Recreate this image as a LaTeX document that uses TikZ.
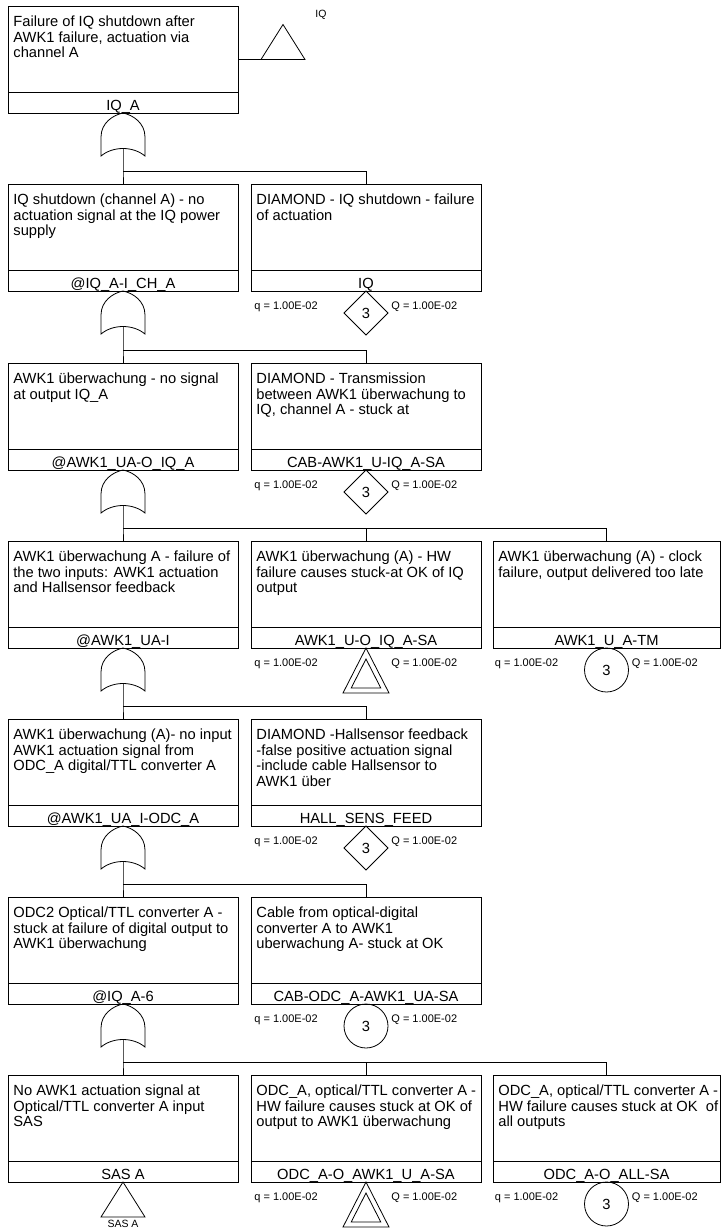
\documentclass[tikz,border=0pt]{standalone}
\usepackage{fontspec}
\setmainfont{Liberation Sans}
\usetikzlibrary{shapes.geometric}

% event box: name, left, top, width, description, identifier
\newcommand\evbox[6]{%
  \node[boxshape, minimum width=#4pt] (#1) at (#2,#3) {};
  \draw ([yshift=-86pt]#1.north west) -- ([yshift=-86pt]#1.north east);
  \node[desc] (#1-d) at ([xshift=5pt,yshift=-9.3pt]#1.north west) {#5};
  \node[lbl] (#1-l) at ([yshift=3pt]#1.south) {#6};
}
% OR gate hanging below a box; #1 = name of its input point, #2 = apex
\newcommand\orgate[2]{%
  \begin{scope}[shift={(#2)}]
    \draw (-22,43) -- (-22,24) .. controls (-22,10) and (-10,2) .. (0,0)
          .. controls (10,2) and (22,10) .. (22,24) -- (22,43)
          .. controls (10,33) and (-10,33) .. cycle;
    \coordinate (#1) at (0,35.5);
  \end{scope}}
% double triangle (undeveloped transfer) below a box
\newcommand\dbltri[1]{%
  \begin{scope}[shift={(#1)}]
    \draw (0,0) -- (23,45) -- (-23,45) -- cycle;
    \draw (0,11) -- (14.8,40) -- (-14.8,40) -- cycle;
  \end{scope}}
% probability labels around an event symbol
\newcommand\probs[2]{%
  \begin{scope}[shift={(#2)}]
    \node[prob] (#1-q) at (-112,18) {q = 1.00E-02};
    \node[prob] (#1-Q) at (25,18) {Q = 1.00E-02};
  \end{scope}}

\begin{document}
\begin{tikzpicture}[x=1pt,y=-1pt,line width=0.8pt,
  boxshape/.style={draw, minimum height=107pt, inner sep=0pt, outer sep=0pt, anchor=north west},
  desc/.style={anchor=north west, inner sep=0pt, align=left, font=\fontsize{14.7}{15.8}\selectfont},
  lbl/.style={anchor=base, inner sep=0pt, font=\fontsize{14.7}{15.8}\selectfont},
  prob/.style={anchor=base west, inner sep=0pt, font=\fontsize{11}{13}\selectfont},
  evdiamond/.style={diamond, draw, minimum width=44pt, minimum height=44pt, inner sep=0pt, outer sep=0pt, anchor=north, font=\fontsize{14.7}{15.8}\selectfont},
  evcircle/.style={circle, draw, minimum size=44pt, inner sep=0pt, outer sep=0pt, anchor=north, font=\fontsize{14.7}{15.8}\selectfont},
  tag/.style={inner sep=0pt, font=\fontsize{10.5}{12}\selectfont},
]
\fill[white] (0,0) rectangle (721,1229);
\useasboundingbox (0,0) rectangle (721,1229);

% ---------- level 1 ----------
\evbox{b1}{8}{6}{230}{Failure of IQ shutdown after\\AWK1 failure, actuation via\\channel A}{IQ\_A}
\coordinate (t0) at (261,59.5);
\draw (b1.east) -- (t0);
\draw (t0) -- ++(44,0) -- ++(-22,-35) -- cycle;
\node[tag, anchor=base west] (t0-l) at (315,17) {IQ};
\orgate{g1}{b1.south}

% ---------- level 2 ----------
\evbox{b2a}{8}{184}{230}{IQ shutdown (channel A) - no\\actuation signal at the IQ power\\supply}{@IQ\_A-I\_CH\_A}
\evbox{b2b}{251}{184}{230}{DIAMOND - IQ shutdown - failure\\of actuation}{IQ}
\node[evdiamond] (e2b) at (b2b.south) {3};
\probs{p2b}{b2b.south}
\coordinate (h1) at (123,171);
\draw (g1) -- (h1) -- (b2a.north);
\draw (h1) -| (b2b.north);
\orgate{g2}{b2a.south}

% ---------- level 3 ----------
\evbox{b3a}{8}{363}{230}{AWK1 überwachung - no signal\\at output IQ\_A}{@AWK1\_UA-O\_IQ\_A}
\evbox{b3b}{251}{363}{230}{DIAMOND - Transmission\\between AWK1 überwachung to\\IQ, channel A - stuck at}{CAB-AWK1\_U-IQ\_A-SA}
\node[evdiamond] (e3b) at (b3b.south) {3};
\probs{p3b}{b3b.south}
\coordinate (h2) at (123,350);
\draw (g2) -- (h2) -- (b3a.north);
\draw (h2) -| (b3b.north);
\orgate{g3}{b3a.south}

% ---------- level 4 ----------
\evbox{b4a}{8}{541}{230}{AWK1 überwachung A - failure of\\the two inputs: AWK1 actuation\\and Hallsensor feedback}{@AWK1\_UA-I}
\evbox{b4b}{251}{541}{230}{AWK1 überwachung (A) - HW\\failure causes stuck-at OK of IQ\\output}{AWK1\_U-O\_IQ\_A-SA}
\evbox{b4c}{493}{541}{227}{AWK1 überwachung (A) - clock\\failure, output delivered too late}{AWK1\_U\_A-TM}
\dbltri{b4b.south}
\probs{p4b}{b4b.south}
\node[evcircle] (e4c) at (b4c.south) {3};
\probs{p4c}{b4c.south}
\coordinate (h3) at (123,528);
\draw (g3) -- (h3) -- (b4a.north);
\draw (h3) -| (b4b.north);
\draw (h3) -| (b4c.north);
\orgate{g4}{b4a.south}

% ---------- level 5 ----------
\evbox{b5a}{8}{719}{230}{AWK1 überwachung (A)- no input\\AWK1 actuation signal from\\ODC\_A digital/TTL converter A}{@AWK1\_UA\_I-ODC\_A}
\evbox{b5b}{251}{719}{230}{DIAMOND -Hallsensor feedback\\-false positive actuation signal\\-include cable Hallsensor to\\AWK1 über}{HALL\_SENS\_FEED}
\node[evdiamond] (e5b) at (b5b.south) {3};
\probs{p5b}{b5b.south}
\coordinate (h4) at (123,706);
\draw (g4) -- (h4) -- (b5a.north);
\draw (h4) -| (b5b.north);
\orgate{g5}{b5a.south}

% ---------- level 6 ----------
\evbox{b6a}{8}{897}{230}{ODC2 Optical/TTL converter A -\\stuck at failure of digital output to\\AWK1 überwachung}{@IQ\_A-6}
\evbox{b6b}{251}{897}{230}{Cable from optical-digital\\converter A to AWK1\\uberwachung A- stuck at OK}{CAB-ODC\_A-AWK1\_UA-SA}
\node[evcircle] (e6b) at (b6b.south) {3};
\probs{p6b}{b6b.south}
\coordinate (h5) at (123,884);
\draw (g5) -- (h5) -- (b6a.north);
\draw (h5) -| (b6b.north);
\orgate{g6}{b6a.south}

% ---------- level 7 ----------
\evbox{b7a}{8}{1075}{230}{No AWK1 actuation signal at\\Optical/TTL converter A input\\SAS}{SAS A}
\evbox{b7b}{251}{1075}{230}{ODC\_A, optical/TTL converter A -\\HW failure causes stuck at OK of\\output to AWK1 überwachung}{ODC\_A-O\_AWK1\_U\_A-SA}
\evbox{b7c}{493}{1075}{227}{ODC\_A, optical/TTL converter A -\\HW failure causes stuck at OK\ \ of\\all outputs}{ODC\_A-O\_ALL-SA}
\begin{scope}[shift={(b7a.south)}]
  \draw (0,0) -- (22,35) -- (-22,35) -- cycle;
  \node[tag, anchor=base] (t7a) at (0,45.5) {SAS A};
\end{scope}
\dbltri{b7b.south}
\probs{p7b}{b7b.south}
\node[evcircle] (e7c) at (b7c.south) {3};
\probs{p7c}{b7c.south}
\coordinate (h6) at (123,1062);
\draw (g6) -- (h6) -- (b7a.north);
\draw (h6) -| (b7b.north);
\draw (h6) -| (b7c.north);
\end{tikzpicture}
\end{document}
